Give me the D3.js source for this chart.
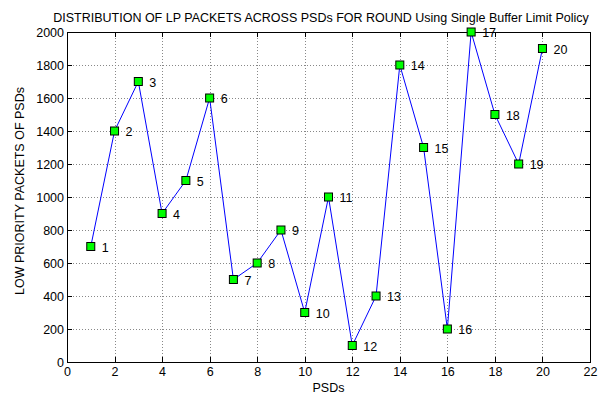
<!doctype html>
<html lang="en">
  <head>
    <meta charset="UTF-8" />
    <title>LP packets across PSDs</title>
    <script src="https://unpkg.com/d3@7.9.0/dist/d3.min.js"></script>
    <style>
      body {
        margin: 0;
        background: #fff;
        font-family: 'Liberation Sans', Arial, sans-serif;
      }
      .axis text {
        font-size: 12.5px;
        fill: #000;
      }
      .axis path,
      .axis line {
        stroke: #000;
        shape-rendering: crispEdges;
      }
      .axis path {
        stroke-width: 1.5;
      }
      .grid line {
        stroke: #888;
        stroke-dasharray: 1, 2;
        shape-rendering: crispEdges;
      }
      .pt-label {
        font-size: 12.5px;
      }
    </style>
  </head>
  <body>
    <svg width="611" height="396"></svg>

    <script>
      // data
      const psd = [1, 2, 3, 4, 5, 6, 7, 8, 9, 10, 11, 12, 13, 14, 15, 16, 17, 18, 19, 20];
      const packets = [700, 1400, 1700, 900, 1100, 1600, 500, 600, 800, 300, 1000, 100, 400, 1800, 1300, 200, 2000, 1500, 1200, 1900];
      const xTicks = [0, 2, 4, 6, 8, 10, 12, 14, 16, 18, 20, 22];
      const yTicks = [0, 200, 400, 600, 800, 1000, 1200, 1400, 1600, 1800, 2000];

      const svg = d3.select('svg');
      const margin = { top: 32, right: 21, bottom: 34, left: 67 };
      const w = 611 - margin.left - margin.right,
        h = 396 - margin.top - margin.bottom;

      const x = d3.scaleLinear().domain([0, 22]).range([0, w]);
      const y = d3.scaleLinear().domain([0, 2000]).range([h, 0]);

      const g = svg.append('g').attr('transform', `translate(${margin.left},${margin.top})`);

      // grid
      const grid = g.append('g').attr('class', 'grid');
      grid.selectAll('.gx')
        .data(xTicks.slice(1, -1))
        .enter()
        .append('line')
        .attr('x1', (d) => Math.round(x(d)) + 0.5)
        .attr('x2', (d) => Math.round(x(d)) + 0.5)
        .attr('y1', 0)
        .attr('y2', h);
      grid.selectAll('.gy')
        .data(yTicks.slice(1, -1))
        .enter()
        .append('line')
        .attr('y1', (d) => Math.round(y(d)) + 0.5)
        .attr('y2', (d) => Math.round(y(d)) + 0.5)
        .attr('x1', 0)
        .attr('x2', w);

      // axes (MATLAB box with inward ticks)
      g.append('g')
        .attr('class', 'axis')
        .attr('transform', `translate(0,${h})`)
        .call(d3.axisBottom(x).tickValues(xTicks).tickSizeInner(-5).tickSizeOuter(0).tickPadding(5));
      g.append('g')
        .attr('class', 'axis')
        .call(d3.axisTop(x).tickValues(xTicks).tickSizeInner(-5).tickSizeOuter(0).tickFormat(''));
      g.append('g')
        .attr('class', 'axis')
        .call(d3.axisLeft(y).tickValues(yTicks).tickFormat(d3.format('d')).tickSizeInner(-5).tickSizeOuter(0).tickPadding(3));
      g.append('g')
        .attr('class', 'axis')
        .attr('transform', `translate(${w},0)`)
        .call(d3.axisRight(y).tickValues(yTicks).tickSizeInner(-5).tickSizeOuter(0).tickFormat(''));

      const pts = psd.map((p, i) => ({ p: p, v: packets[i] }));

      // line
      g.append('path')
        .datum(pts)
        .attr('fill', 'none')
        .attr('stroke', '#0000ff')
        .attr('stroke-width', 1)
        .attr('d', d3.line().x((d) => x(d.p)).y((d) => y(d.v)));

      // markers
      g.selectAll('.mk')
        .data(pts)
        .enter()
        .append('rect')
        .attr('x', (d) => x(d.p) - 4)
        .attr('y', (d) => y(d.v) - 4)
        .attr('width', 8)
        .attr('height', 8)
        .attr('fill', '#00ff00')
        .attr('stroke', '#000')
        .attr('stroke-width', 1);

      g.selectAll('.pt-label')
        .data(pts)
        .enter()
        .append('text')
        .attr('class', 'pt-label')
        .attr('x', (d) => x(d.p) + 11)
        .attr('y', (d) => y(d.v) + 5)
        .text((d) => d.p);

      // titles
      svg.append('text')
        .attr('x', 321)
        .attr('y', 22)
        .attr('text-anchor', 'middle')
        .style('font-size', '12.5px')
        .text('DISTRIBUTION OF LP PACKETS ACROSS PSDs FOR ROUND Using Single Buffer Limit Policy');

      svg.append('text')
        .attr('x', margin.left + w / 2)
        .attr('y', 392)
        .attr('text-anchor', 'middle')
        .style('font-size', '12.5px')
        .text('PSDs');

      svg.append('text')
        .attr('transform', `translate(24,191) rotate(-90)`)
        .attr('text-anchor', 'middle')
        .style('font-size', '12.5px')
        .text('LOW PRIORITY PACKETS OF PSDs');
    </script>
  </body>
</html>
